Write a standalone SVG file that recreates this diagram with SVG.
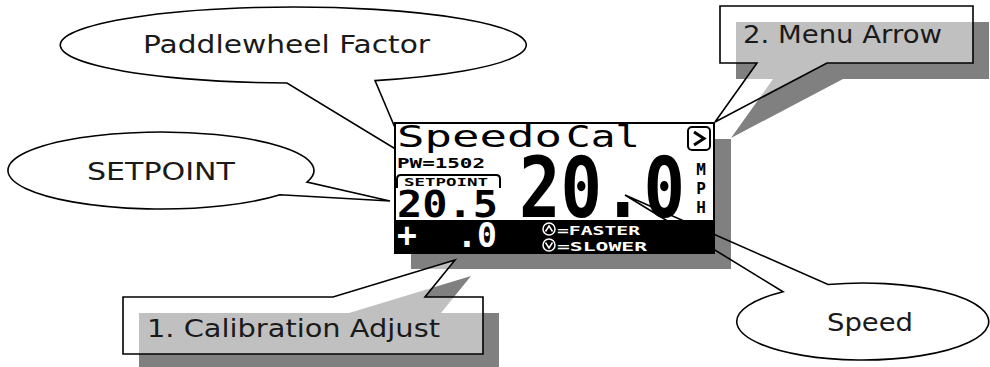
<svg xmlns="http://www.w3.org/2000/svg" width="990" height="367" viewBox="0 0 990 367">
<style>
.callout{stroke:#000;stroke-width:1.6;stroke-linejoin:miter}
.solid{fill:#fff}
.glass{fill:#fff;fill-opacity:0.5}
.shadow{fill:#808080}
.label{font-family:"DejaVu Sans","Liberation Sans",sans-serif;font-size:24px;fill:#1a1a1a}
.lcd{font-family:"DejaVu Sans Mono","Liberation Mono",monospace}
.w{fill:#fff}
.unit{font-family:"DejaVu Sans Mono","Liberation Mono",monospace;font-size:16px;font-weight:bold;text-anchor:middle}
</style>
<rect width="990" height="367" fill="#fff"/>
<g id="paddlewheel-callout">
<path class="callout solid" d="M375,80.6 A233,38 0 1 0 287,83 L407,156 Z"/>
<text class="label" x="143" y="53" textLength="287" lengthAdjust="spacingAndGlyphs">Paddlewheel Factor</text>
</g>
<g id="setpoint-callout">
<path class="callout solid" d="M307,182 A153,38.5 0 1 0 280,194.7 L390,201 Z"/>
<text class="label" x="87" y="180" textLength="148" lengthAdjust="spacingAndGlyphs">SETPOINT</text>
</g>
<g id="lcd">
<rect class="shadow" x="411" y="139" width="320" height="130"/>
<rect x="395" y="123" width="319" height="130" fill="#fff" stroke="#000" stroke-width="2"/>
<text class="lcd" y="147" font-size="30"><tspan x="397" textLength="165" lengthAdjust="spacingAndGlyphs">Speedo</tspan><tspan x="566" textLength="74" lengthAdjust="spacingAndGlyphs">Cal</tspan></text>
<rect x="688" y="127" width="22" height="23" rx="4" fill="none" stroke="#000" stroke-width="2"/>
<path d="M694,132 L704,138.5 L694,145" fill="none" stroke="#000" stroke-width="3"/>
<text class="lcd" x="397" y="168" font-size="14" font-weight="bold" textLength="88" lengthAdjust="spacingAndGlyphs">PW=1502</text>
<path d="M397,188 V179 Q397,175 401,175 H496 Q500,175 500,179 V188" fill="none" stroke="#000" stroke-width="2"/>
<text class="lcd" x="404" y="186" font-size="11" font-weight="bold" textLength="84" lengthAdjust="spacingAndGlyphs">SETPOINT</text>
<text class="lcd" x="397" y="217" font-size="38" font-weight="bold" textLength="101" lengthAdjust="spacingAndGlyphs">20.5</text>
<text class="lcd" transform="translate(519,217) scale(1,1.2)" x="0" y="0" font-size="69" font-weight="bold">20.0</text>
<text class="unit" x="701" y="175">M</text>
<text class="unit" x="701" y="194">P</text>
<text class="unit" x="701" y="213">H</text>
<rect x="395" y="220" width="319" height="33" fill="#000"/>
<text class="lcd w" font-size="33" font-weight="bold" y="247" x="397 417 457 477">+ .0</text>
<circle cx="549" cy="229" r="6" fill="none" stroke="#fff" stroke-width="1.5"/>
<path d="M545.5,231.5 L549,226 L552.5,231.5" fill="none" stroke="#fff" stroke-width="1.5"/>
<circle cx="549" cy="245" r="6" fill="none" stroke="#fff" stroke-width="1.5"/>
<path d="M545.5,242.5 L549,248 L552.5,242.5" fill="none" stroke="#fff" stroke-width="1.5"/>
<text class="lcd w" x="557" y="235" font-size="13" font-weight="bold" textLength="83" lengthAdjust="spacingAndGlyphs">=FASTER</text>
<text class="lcd w" x="557" y="251" font-size="13" font-weight="bold" textLength="90" lengthAdjust="spacingAndGlyphs">=SLOWER</text>
</g>
<g id="menu-arrow-callout">
<path class="shadow" transform="translate(16,16)" d="M720,6 H973 V63 H827 L715,122 L757,63 H720 Z"/>
<path class="callout glass" d="M720,6 H973 V63 H827 L715,122 L757,63 H720 Z"/>
<text class="label" x="743" y="43" textLength="199" lengthAdjust="spacingAndGlyphs">2. Menu Arrow</text>
</g>
<g id="calibration-callout">
<path class="shadow" transform="translate(16,16)" d="M123,297 H333 L455,260 L425,297 H483 V354 H123 Z"/>
<path class="callout glass" d="M123,297 H333 L455,260 L425,297 H483 V354 H123 Z"/>
<text class="label" x="147" y="337" textLength="293" lengthAdjust="spacingAndGlyphs">1. Calibration Adjust</text>
</g>
<g id="speed-callout">
<path class="callout" fill="none" d="M828,284.5 A126,38.5 0 1 1 783,291.7 L625,195 Z"/>
<text class="label" x="827" y="331" textLength="86" lengthAdjust="spacingAndGlyphs">Speed</text>
</g>
<g id="connectors"/>
</svg>
